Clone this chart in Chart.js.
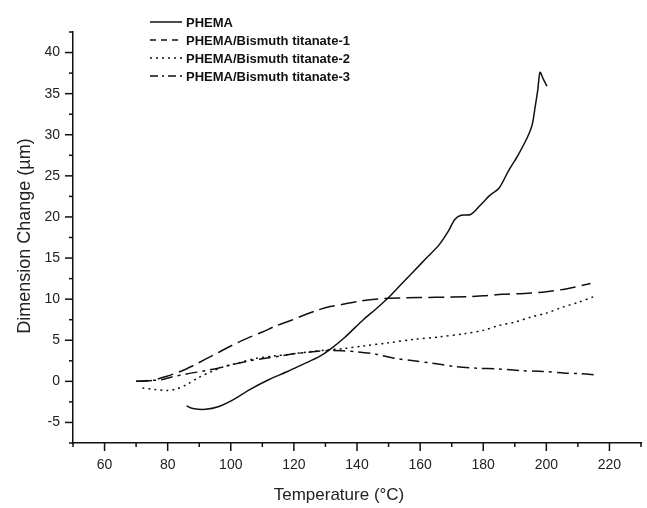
<!DOCTYPE html>
<html>
<head>
<meta charset="utf-8">
<script src="https://cdn.jsdelivr.net/npm/chart.js@4/dist/chart.umd.min.js"></script>
<style>
html,body{margin:0;padding:0;background:#fff;}
#wrap{width:647px;height:508px;}
</style>
</head>
<body>
<div id="wrap"><canvas id="c" width="647" height="508"></canvas></div>
<script>
// ---- data ----
const seriesNames = ["PHEMA", "PHEMA/Bismuth titanate-1", "PHEMA/Bismuth titanate-2", "PHEMA/Bismuth titanate-3"];

const tempPhema = [86,88,92,96,101,106,112,118,123,128,131.5,136,142,146,150,154,158,162,166,169,171,173,176,179,182,185,188,191,194,195.5,196.5,197.3,198,199,200.2];
const dimPhema  = [-3.0,-3.3,-3.4,-3.1,-2.2,-1.0,0.2,1.2,2.1,3.0,3.9,5.3,7.5,8.8,10.2,11.8,13.4,15.0,16.6,18.3,19.7,20.2,20.3,21.4,22.6,23.5,25.6,27.5,29.7,31.2,33.5,35.5,37.6,36.8,35.9];

const tempBT1 = [70,75,79.5,84,88,92,96,100,105,110,114,119,123.5,127,131.5,136,140,145,150,160,170,180,186,193,200,207,214];
const dimBT1  = [0,0.1,0.6,1.2,1.9,2.7,3.5,4.3,5.2,6.0,6.7,7.4,8.1,8.6,9.1,9.4,9.7,9.95,10.1,10.2,10.25,10.4,10.6,10.7,10.9,11.3,11.9];

const tempBT2 = [72,76,80,83,86,90,94,98,103,108,114,119,125,130,136,142,150,158,166,174,180,185,190,195,200,205,210,215];
const dimBT2  = [-0.8,-1.0,-1.1,-0.9,-0.4,0.5,1.2,1.8,2.3,2.8,3.1,3.3,3.6,3.8,4.0,4.3,4.7,5.1,5.4,5.8,6.2,6.8,7.2,7.8,8.3,9.0,9.6,10.3];

const tempBT3 = [70,74,78,81,86,92,96,100,106,111,116,121,126,131,136,140,146,152,158,164,171,178,185,192,199,206,210,215];
const dimBT3  = [0,0.1,0.2,0.5,0.9,1.3,1.6,2.0,2.5,2.8,3.1,3.4,3.6,3.75,3.7,3.6,3.3,2.8,2.5,2.2,1.8,1.6,1.5,1.3,1.2,1.0,0.95,0.8];

const xTickLabels = [60,80,100,120,140,160,180,200,220];
const yTickLabels = [-5,0,5,10,15,20,25,30,35,40];

const xTitle = "Temperature (\u00B0C)";
const yTitle = "Dimension Change (\u00B5m)";

// ---- build chart ----
function pts(xs, ys){ return xs.map((x,i)=>({x:x, y:ys[i]})); }
const dashes = [[], [16,6], [2,4], [12,5,3,5]];
const legendDashes = [[], [6,5], [2,4], [8,4,2,4]];
const temps = [tempPhema, tempBT1, tempBT2, tempBT3];
const dims = [dimPhema, dimBT1, dimBT2, dimBT3];

const datasets = seriesNames.map((n,i)=>({
  label: n,
  data: pts(temps[i], dims[i]),
  borderColor: '#111',
  borderWidth: 1.5,
  borderDash: dashes[i],
  pointRadius: 0,
  fill: false,
  tension: 0.3
}));

const tickPlugin = {
  id: 'customTicks',
  afterDraw(chart){
    const ctx = chart.ctx;
    const xs = chart.scales.x, ys = chart.scales.y;
    const ca = chart.chartArea;
    ctx.save();
    ctx.strokeStyle = '#111';
    ctx.lineWidth = 1.5;
    ctx.setLineDash([]);
    xs.ticks.forEach(t=>{
      const px = xs.getPixelForValue(t.value);
      const major = xTickLabels.includes(t.value);
      const len = major ? 8 : 4;
      ctx.beginPath(); ctx.moveTo(px, ca.bottom); ctx.lineTo(px, ca.bottom + len); ctx.stroke();
    });
    ys.ticks.forEach(t=>{
      const py = ys.getPixelForValue(t.value);
      const major = yTickLabels.includes(t.value);
      const len = major ? 8 : 4;
      ctx.beginPath(); ctx.moveTo(ca.left, py); ctx.lineTo(ca.left - len, py); ctx.stroke();
    });
    // axis titles
    ctx.fillStyle = '#222';
    ctx.font = '17px "Liberation Sans", Arial, sans-serif';
    ctx.textAlign = 'center';
    ctx.textBaseline = 'middle';
    ctx.fillText(xTitle, 339, 495);
    ctx.save();
    ctx.translate(25, 236);
    ctx.rotate(-Math.PI/2);
    ctx.font = '18px "Liberation Sans", Arial, sans-serif';
    ctx.fillText(yTitle, 0, 0);
    ctx.restore();
    // legend
    ctx.font = 'bold 13px "Liberation Sans", Arial, sans-serif';
    ctx.textAlign = 'left';
    chart.data.datasets.forEach((d,i)=>{
      const y = 22 + 18*i;
      ctx.setLineDash(legendDashes[i]);
      ctx.strokeStyle = '#111';
      ctx.lineWidth = 1.5;
      ctx.beginPath(); ctx.moveTo(150, y); ctx.lineTo(182, y); ctx.stroke();
      ctx.setLineDash([]);
      ctx.fillStyle = '#111';
      ctx.fillText(d.label, 186, y+1);
    });
    ctx.restore();
  }
};

new Chart(document.getElementById('c'), {
  type: 'line',
  data: { datasets: datasets },
  plugins: [tickPlugin],
  options: {
    responsive: false,
    animation: false,
    layout: { padding: { top: 32, right: 0, left: 0, bottom: 0 } },
    plugins: { legend: { display: false }, tooltip: { enabled: false } },
    scales: {
      x: {
        type: 'linear',
        min: 50, max: 230,
        afterFit(s){ s.height = 65; },
        grid: { display: true, drawOnChartArea: false, drawTicks: true, tickLength: 8, tickColor: 'rgba(0,0,0,0)' },
        border: { display: true, color: '#111', width: 1.5 },
        ticks: {
          stepSize: 10,
          autoSkip: false,
          maxRotation: 0,
          padding: 6,
          color: '#222',
          font: { family: '"Liberation Sans", Arial, sans-serif', size: 14 },
          callback: v => xTickLabels.includes(v) ? String(v) : ''
        }
      },
      y: {
        min: -7.5, max: 42.5,
        afterFit(s){ s.width = 73; },
        grid: { display: true, drawOnChartArea: false, drawTicks: true, tickLength: 8, tickColor: 'rgba(0,0,0,0)' },
        border: { display: true, color: '#111', width: 1.5 },
        ticks: {
          stepSize: 2.5,
          autoSkip: false,
          padding: 5,
          color: '#222',
          font: { family: '"Liberation Sans", Arial, sans-serif', size: 14 },
          callback: v => yTickLabels.includes(v) ? String(v) : ''
        }
      }
    }
  }
});
</script>
</body>
</html>
